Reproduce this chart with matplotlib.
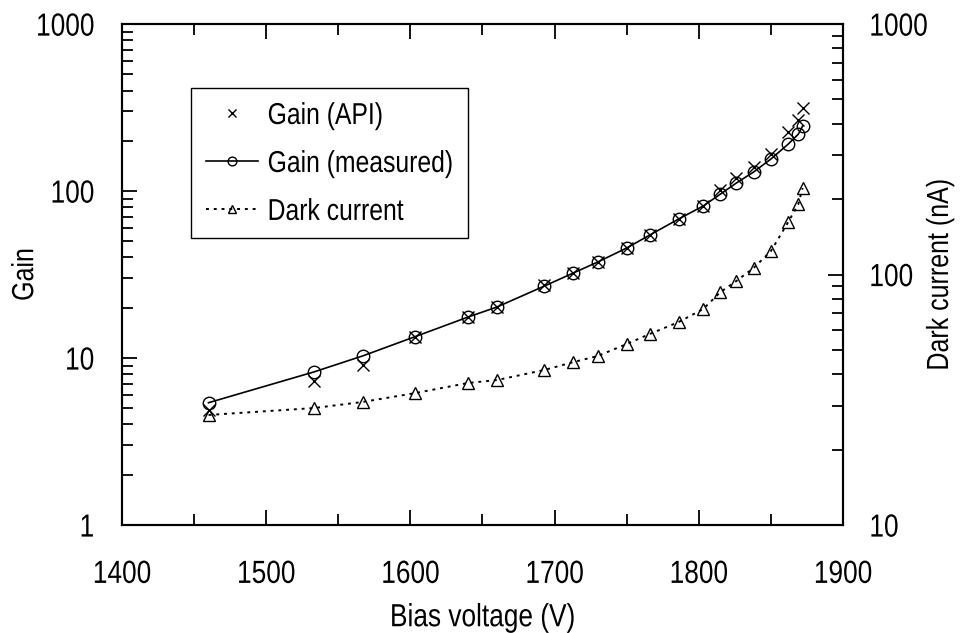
import numpy as np
import matplotlib
matplotlib.use('Agg')
import matplotlib.pyplot as plt
from matplotlib.patheffects import AbstractPathEffect
from matplotlib.transforms import Affine2D
from matplotlib.ticker import MultipleLocator, LogLocator, NullFormatter, FixedFormatter, FixedLocator

plt.rcParams['font.family'] = 'Liberation Sans'

# bias voltage (V)
bias = [1460, 1533, 1567, 1603, 1640, 1660, 1693, 1713, 1730, 1750,
        1766, 1786, 1803, 1815, 1826, 1838, 1850, 1862, 1869, 1872]

# gain from the API formula
gain_api = [4.9, 7.3, 9.1, 13.4, 17.6, 20.2, 27.5, 32.3, 37.6, 45.6,
            54.5, 68.0, 81.3, 101.4, 119.6, 139, 166.6, 225.6, 266, 314]

# measured gain
gain_meas = [5.4, 8.25, 10.3, 13.4, 17.6, 20.2, 27.0, 32.3, 37.6, 45.6,
             54.5, 68.0, 81.3, 95.9, 111.6, 130, 155.5, 191, 219, 245]

# dark current (nA)
dark = [27.5, 29.3, 31.0, 33.6, 36.9, 37.9, 41.6, 44.7, 47.3, 52.8,
        57.9, 64.6, 72.8, 85.1, 94.2, 106.2, 124, 162, 191, 221.5]


class Tall(AbstractPathEffect):
    """Stretch glyphs across the text direction, giving a narrow-looking font."""
    def __init__(self, k=1.22):
        super().__init__()
        self.k = k

    def draw_path(self, renderer, gc, tpath, affine, rgbFace=None):
        # glyph units: 100 per em, 36 is about mid cap height
        t = Affine2D().translate(0, -36).scale(1, self.k).translate(0, 36) + affine
        renderer.draw_path(gc, tpath, t, rgbFace)


TICK_FS = 18.9
LABEL_FS = 18.9
YLABEL_FS = 18
LEG_FS = 17.8

fig = plt.figure(figsize=(9.62, 6.33), dpi=100)
ax = fig.add_axes([0.1268, 0.1706, 0.7495, 0.7914])
ax2 = ax.twinx()

ms = 9
ax.plot(bias, gain_api, linestyle='none', marker='x', ms=ms, mew=1.0,
        color='black', label='Gain (API)')
ax.plot(bias, gain_meas, '-', marker='o', ms=ms, mfc='none', mew=1.0,
        lw=1.2, color='black', label='Gain (measured)')
ax2.plot(bias, dark, linestyle=(0, (1.5, 2.5)), marker='^', ms=ms, mfc='none',
         mew=1.0, lw=1.4, color='black', label='Dark current')

ax.set_xlim(1400, 1900)
ax.set_yscale('log')
ax.set_ylim(1, 1000)
ax2.set_yscale('log')
ax2.set_ylim(10, 1000)

ax.xaxis.set_major_locator(MultipleLocator(100))
ax.xaxis.set_minor_locator(MultipleLocator(50))
ax.yaxis.set_major_locator(FixedLocator([1, 10, 100, 1000]))
ax.yaxis.set_major_formatter(FixedFormatter(['1', '10', '100', '1000']))
ax.yaxis.set_minor_locator(LogLocator(base=10, subs=np.arange(2, 10)))
ax.yaxis.set_minor_formatter(NullFormatter())
ax2.yaxis.set_major_locator(FixedLocator([10, 100, 1000]))
ax2.yaxis.set_major_formatter(FixedFormatter(['10', '100', '1000']))
ax2.yaxis.set_minor_locator(LogLocator(base=10, subs=np.arange(2, 10)))
ax2.yaxis.set_minor_formatter(NullFormatter())

ax.tick_params(axis='x', which='both', direction='in', top=True, pad=26.5,
               labelsize=TICK_FS)
ax.tick_params(axis='y', which='both', direction='in', right=False, pad=20,
               labelsize=TICK_FS)
ax2.tick_params(axis='y', which='both', direction='in', pad=19, labelsize=TICK_FS)
for a in (ax, ax2):
    a.tick_params(which='major', length=11, width=1.3)
    a.tick_params(which='minor', length=8, width=1.3)
    for s in a.spines.values():
        s.set_linewidth(1.5)

ax.set_xlabel('Bias voltage (V)', fontsize=LABEL_FS)
ax.xaxis.set_label_coords(0.5, -0.160)
ax.set_ylabel('Gain', fontsize=YLABEL_FS)
ax.yaxis.set_label_coords(-0.119, 0.5)
ax2.set_ylabel('Dark current (nA)', fontsize=YLABEL_FS)
ax2.yaxis.set_label_coords(1.1165, 0.5)

h1, l1 = ax.get_legend_handles_labels()
h2, l2 = ax2.get_legend_handles_labels()
leg = ax.legend(h1 + h2, l1 + l2, loc='upper left', bbox_to_anchor=(0.0957, 0.872),
                borderaxespad=0, fancybox=False, framealpha=1, edgecolor='black',
                markerscale=0.7, handlelength=2.1, handletextpad=0.4,
                borderpad=0.6, labelspacing=0.97, fontsize=LEG_FS)
leg.get_frame().set_linewidth(1.0)

fig.canvas.draw()
tall = [Tall(1.22)]
texts = (ax.get_xticklabels() + ax.get_yticklabels() + ax2.get_yticklabels()
         + [ax.xaxis.label, ax.yaxis.label, ax2.yaxis.label] + leg.get_texts())
for t in texts:
    t.set_path_effects(tall)

fig.savefig('out.png', dpi=100)
